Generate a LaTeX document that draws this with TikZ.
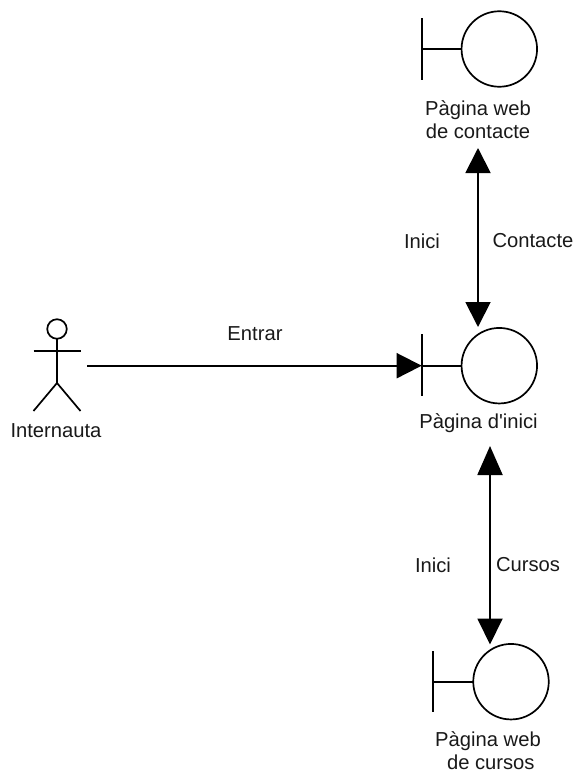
\documentclass[tikz,border=0pt]{standalone}
\usepackage{fontspec}
\setmainfont{Liberation Sans}
\usetikzlibrary{arrows.meta}
\tikzset{
  x=1pt,y=-1pt,
  ln/.style={line width=1.7pt,black},
  ctrl/.style={circle,draw,line width=1.7pt,minimum size=75.5pt,inner sep=0pt,outer sep=0pt},
  lbl/.style={font=\fontsize{20.2}{22.5}\selectfont,align=center,inner sep=0pt,text=black!90},
  conn/.style={line width=1.9pt,black}
}
\begin{document}
\begin{tikzpicture}
\useasboundingbox (0,0) rectangle (576,771);
% boundary: top
\node[ctrl] (ctop) at (499.3,49) {};
\coordinate (btop) at (421.7,49);
\draw[ln] (421.7,18) -- (421.7,80);
\draw[ln] (btop) -- (ctop.west);
\node[lbl] (ltop) at (478,119.5) {Pàgina web\\de contacte};
% boundary: main
\node[ctrl] (cmain) at (499.3,365.7) {};
\coordinate (bmain) at (421.7,365.7);
\draw[ln] (421.7,334) -- (421.7,396);
\draw[ln] (bmain) -- (cmain.west);
\node[lbl] (lmain) at (478.5,423) {Pàgina d\textquotesingle inici};
% boundary: bottom
\node[ctrl] (cbot) at (511,681.7) {};
\coordinate (bbot) at (433.3,681.7);
\draw[ln] (433.3,651) -- (433.3,712);
\draw[ln] (bbot) -- (cbot.west);
\node[lbl] (lbot) at (488,750.5) {Pàgina web\\\ de cursos};
% actor
\node[circle,draw,line width=1.7pt,minimum size=19.5pt,inner sep=0pt,outer sep=0pt] (head) at (57,329) {};
\coordinate (hip) at (57,383);
\draw[ln] (head.south) -- (hip);
\draw[ln] (33.5,351) -- (80.5,351);
\draw[ln] (33.5,411) -- (hip) -- (80.5,411);
\node[lbl] (lact) at (56,431) {Internauta};
% connectors
\coordinate (astart) at (87,365.7);
\draw[conn,-{Triangle[length=25pt,width=25pt]}] (astart) -- (bmain);
\coordinate (t1) at (478,148);
\coordinate (t2) at (478,327);
\draw[conn,{Triangle[length=25pt,width=25pt]}-{Triangle[length=25pt,width=25pt]}] (t1) -- (t2);
\coordinate (b1) at (490,446);
\coordinate (b2) at (490,644.5);
\draw[conn,{Triangle[length=29pt,width=25pt]}-{Triangle[length=26pt,width=25pt]}] (b1) -- (b2);
% labels
\node[lbl] (entrar) at (255,334) {Entrar};
\node[lbl] (i1) at (422,241) {Inici};
\node[lbl] (cont) at (533,241) {Contacte};
\node[lbl] (i2) at (433,565) {Inici};
\node[lbl] (curs) at (528,565) {Cursos};
\end{tikzpicture}
\end{document}
